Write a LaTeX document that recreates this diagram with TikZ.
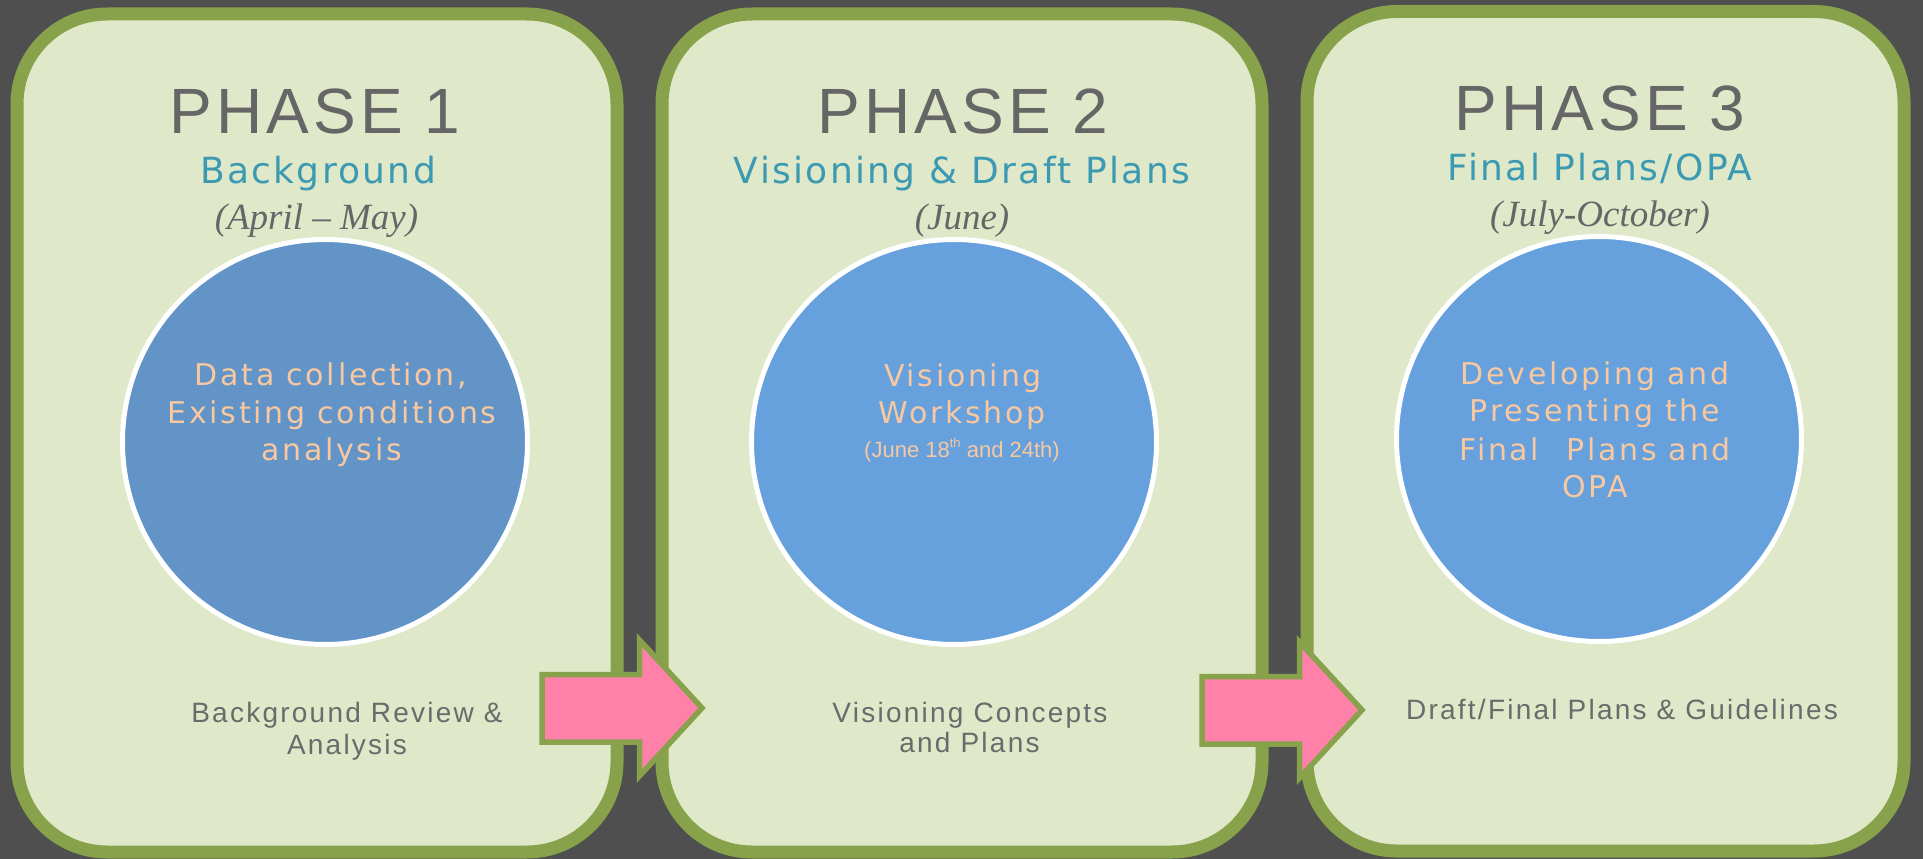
\documentclass[tikz,border=0pt]{standalone}
\usepackage{fontspec}
\setmainfont{Liberation Sans}
\newfontfamily\titlefont{Liberation Sans}[LetterSpace=6.5]
\newfontfamily\subfont{DejaVu Sans}[LetterSpace=6.5]
\newfontfamily\circfont{DejaVu Sans}[LetterSpace=9]
\newfontfamily\botfont{Liberation Sans}[LetterSpace=8]
\newfontfamily\datefont{Liberation Serif}
\newfontfamily\narrowfont{Liberation Sans}
\definecolor{bgc}{HTML}{4F4F4F}
\definecolor{boxfill}{HTML}{DFE8C9}
\definecolor{bord}{HTML}{88A24B}
\definecolor{discA}{HTML}{6294C8}
\definecolor{discB}{HTML}{66A0DD}
\definecolor{peach}{HTML}{F8C8A0}
\definecolor{titlegrey}{HTML}{666666}
\definecolor{teal}{HTML}{3B9AB2}
\definecolor{botgrey}{HTML}{6B6B6B}
\definecolor{pinkarrow}{HTML}{FF80A8}
\begin{document}
\begin{tikzpicture}[x=1pt,y=-1pt,
  panel/.style={draw=bord, fill=boxfill, line width=13pt, rounded corners=90pt},
  disc/.style={circle, draw=white, line width=5pt, minimum size=405pt, inner sep=0pt},
  txt/.style={anchor=base, inner sep=0pt, outer sep=0pt},
  phasetitle/.style={txt, text=titlegrey, font=\titlefont\fontsize{64}{70}\selectfont},
  subtitle/.style={txt, text=teal, font=\subfont\fontsize{36}{40}\selectfont},
  datetxt/.style={txt, text=titlegrey, font=\datefont\itshape\fontsize{37}{40}\selectfont},
  circtxt/.style={txt, text=peach, font=\circfont\fontsize{30}{34}\selectfont},
  smalltxt/.style={txt, text=peach, font=\narrowfont\fontsize{22}{26}\selectfont},
  bottxt/.style={txt, text=botgrey, font=\botfont\fontsize{28}{32}\selectfont},
  blockarrow/.style={draw=bord, fill=pinkarrow, line width=5.5pt, line join=miter}
]
\fill[bgc] (0,0) rectangle (1923,859);
\useasboundingbox (0,0) rectangle (1923,859);

% panels
\draw[panel] (17,14) rectangle (617,852);
\draw[panel] (662,14) rectangle (1262,852);
\draw[panel] (1307,11.5) rectangle (1904,851);

% discs
\node[disc, fill=discA] (d1) at (325,442) {};
\node[disc, fill=discB] (d2) at (954,442) {};
\node[disc, fill=discB] (d3) at (1599,439) {};

% phase 1
\node[phasetitle] (p1t) at (315,133) {PHASE 1};
\node[subtitle] (p1s) at (318,183) {Background};
\node[datetxt] (p1d) at (316.5,229) {(April – May)};
\node[circtxt] (p1c1) at (331,385.7) {Data collection,};
\node[circtxt] (p1c2) at (332,423) {Existing conditions};
\node[circtxt] (p1c3) at (331.5,460.7) {analysis};
\node[bottxt] (p1b1) at (347,722) {Background Review \&};
\node[bottxt] (p1b2) at (347,754) {Analysis};

% phase 2
\node[phasetitle] (p2t) at (963,133) {PHASE 2};
\node[subtitle] (p2s) at (962,183) {Visioning \& Draft Plans};
\node[datetxt] (p2d) at (962,229) {(June)};
\node[circtxt] (p2c1) at (963,386) {Visioning};
\node[circtxt] (p2c2) at (962,423) {Workshop};
\node[smalltxt] (p2c3) at (962,457) {(June 18\raisebox{0.42em}{\fontsize{13}{13}\selectfont th} and 24th)};
\node[bottxt] (p2b1) at (970,722) {Visioning Concepts};
\node[bottxt] (p2b2) at (969.5,752.7) {and Plans};

% phase 3
\node[phasetitle] (p3t) at (1600,130) {PHASE 3};
\node[subtitle] (p3s) at (1600,180) {Final Plans/OPA};
\node[datetxt] (p3d) at (1600,226) {(July-October)};
\node[circtxt] (p3c1) at (1595,384) {Developing and};
\node[circtxt] (p3c2) at (1595,421) {Presenting the};
\node[circtxt] (p3c3) at (1595,460) {Final\hspace{0.5em} Plans and};
\node[circtxt] (p3c4) at (1595,497) {OPA};
\node[bottxt] (p3b1) at (1622,719) {Draft/Final Plans \& Guidelines};

% block arrows
\draw[blockarrow] (542,674.5) -- (639.5,674.5) -- (639.5,640) -- (702,708)
  -- (639.5,776) -- (639.5,742) -- (542,742) -- cycle;
\draw[blockarrow] (1202,676.5) -- (1299.5,676.5) -- (1299.5,642) -- (1362,710)
  -- (1299.5,778) -- (1299.5,744) -- (1202,744) -- cycle;
\end{tikzpicture}
\end{document}
